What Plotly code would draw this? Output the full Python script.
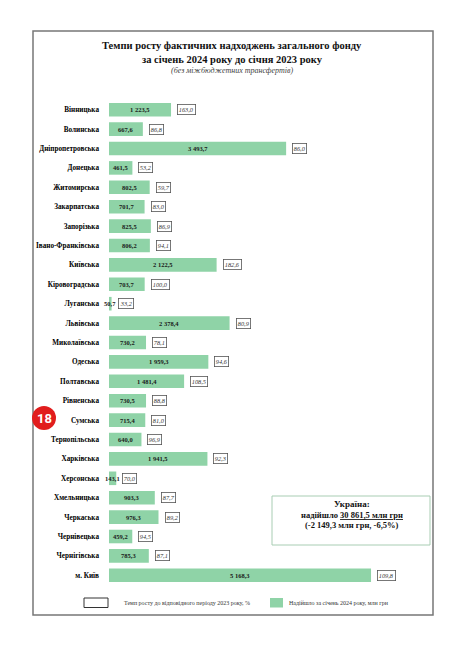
import plotly.graph_objects as go

regions = ["Вінницька", "Волинська", "Дніпропетровська", "Донецька", "Житомирська",
           "Закарпатська", "Запорізька", "Івано-Франківська", "Київська", "Кіровоградська",
           "Луганська", "Львівська", "Миколаївська", "Одеська", "Полтавська",
           "Рівненська", "Сумська", "Тернопільська", "Харківська", "Херсонська",
           "Хмельницька", "Черкаська", "Чернівецька", "Чернігівська", "м. Київ"]
received = [1223.5, 667.6, 3493.7, 461.5, 802.5,
            701.7, 825.5, 806.2, 2122.5, 703.7,
            50.7, 2378.4, 730.2, 1959.3, 1481.4,
            730.5, 715.4, 640.0, 1941.5, 143.1,
            903.3, 976.3, 459.2, 785.3, 5168.3]
growth = [163.0, 86.8, 86.0, 53.2, 59.7,
          83.0, 86.9, 94.1, 182.6, 100.0,
          33.2, 80.9, 78.1, 94.6, 108.5,
          88.8, 81.0, 96.9, 92.3, 70.0,
          87.7, 89.2, 94.5, 87.1, 109.8]

# window is 468x663, page body has an 8px margin
OFF = 8
W, H = 468 - OFF, 663 - OFF
# plot area in window coordinates
PL, PR, PT, PB = 109, 433, 100, 585
ML, MR, MT, MB = PL - OFF, 468 - PR, PT - OFF, 663 - PB
PW, PH = PR - PL, PB - PT
SERIF = "Liberation Serif"
GREEN = "#8fd3a7"


def px(x):
    return (x - PL) / PW


def py(y):
    return 1 - (y - PT) / PH


def fmt(v):
    return f"{v:,.1f}".replace(",", " ").replace(".", ",")


fig = go.Figure()
fig.add_trace(go.Bar(
    x=received, y=regions, orientation="h",
    marker=dict(color=GREEN, line=dict(width=0)),
    width=0.7, showlegend=False, hoverinfo="skip",
))

annotations = []
for r, v, g in zip(regions, received, growth):
    annotations.append(dict(
        x=v / 2, y=r, xref="x", yref="y", text=f"<b>{fmt(v)}</b>",
        showarrow=False, font=dict(family=SERIF, size=6.5, color="#1a1a1a"),
        xanchor="center", yanchor="middle"))
    annotations.append(dict(
        x=v, y=r, xref="x", yref="y", text=f"<i>{fmt(g)}</i>",
        showarrow=False, font=dict(family=SERIF, size=6.3, color="#333"),
        xanchor="left", yanchor="middle", xshift=6,
        bordercolor="#555", borderwidth=0.8, borderpad=1, bgcolor="white"))

# Title
annotations += [
    dict(x=px(232), y=py(46), xref="paper", yref="paper", showarrow=False,
         text="<b>Темпи росту фактичних надходжень загального фонду</b>",
         font=dict(family=SERIF, size=10.5, color="#111"), xanchor="center", yanchor="middle"),
    dict(x=px(232), y=py(59), xref="paper", yref="paper", showarrow=False,
         text="<b>за січень 2024 року до січня 2023 року</b>",
         font=dict(family=SERIF, size=10.5, color="#111"), xanchor="center", yanchor="middle"),
    dict(x=px(232), y=py(70), xref="paper", yref="paper", showarrow=False,
         text="<i>(без міжбюджетних трансфертів)</i>",
         font=dict(family=SERIF, size=8, color="#444"), xanchor="center", yanchor="middle"),
]

# Ukraine summary box
annotations += [
    dict(x=px(352), y=py(504), xref="paper", yref="paper", showarrow=False,
         text="<b>Україна:</b>", font=dict(family=SERIF, size=9, color="#111"),
         xanchor="center", yanchor="middle"),
    dict(x=px(352), y=py(514.5), xref="paper", yref="paper", showarrow=False,
         text="<b>надійшло <u>30 861,5 млн грн</u></b>", font=dict(family=SERIF, size=8.5, color="#111"),
         xanchor="center", yanchor="middle"),
    dict(x=px(352), y=py(525), xref="paper", yref="paper", showarrow=False,
         text="<b>(-2 149,3 млн грн, -6,5%)</b>", font=dict(family=SERIF, size=8.5, color="#111"),
         xanchor="center", yanchor="middle"),
]

# Legend texts
annotations += [
    dict(x=px(122), y=py(603), xref="paper", yref="paper", showarrow=False,
         text="Темп росту до відповідного періоду 2023 року, %",
         font=dict(family=SERIF, size=6, color="#333"), xanchor="left", yanchor="middle"),
    dict(x=px(287), y=py(603), xref="paper", yref="paper", showarrow=False,
         text="Надійшло за січень 2024 року, млн грн",
         font=dict(family=SERIF, size=6, color="#333"), xanchor="left", yanchor="middle"),
]

# Red badge number
annotations.append(dict(x=px(44), y=py(418), xref="paper", yref="paper", showarrow=False,
                        text="<b>18</b>", font=dict(family="Roboto", size=13, color="white"),
                        xanchor="center", yanchor="middle"))

shapes = [
    # page frame
    dict(type="rect", xref="paper", yref="paper", x0=px(33), x1=px(433), y0=py(615), y1=py(31),
         line=dict(color="#777", width=1.5), fillcolor="rgba(0,0,0,0)", layer="below"),
    # Ukraine box
    dict(type="rect", xref="paper", yref="paper", x0=px(272), x1=px(430), y0=py(545), y1=py(496),
         line=dict(color="#a8cdb3", width=1), fillcolor="white", layer="above"),
    # legend: empty box
    dict(type="rect", xref="paper", yref="paper", x0=px(84), x1=px(108), y0=py(607.5), y1=py(598),
         line=dict(color="#333", width=1), fillcolor="white"),
    # legend: green box
    dict(type="rect", xref="paper", yref="paper", x0=px(270), x1=px(283), y0=py(607.5), y1=py(598),
         line=dict(width=0), fillcolor=GREEN),
    # red badge
    dict(type="circle", xref="paper", yref="paper", x0=px(32), x1=px(56), y0=py(430), y1=py(406),
         line=dict(width=0), fillcolor="#e11d1d"),
]

fig.update_layout(
    width=W, height=H,
    margin=dict(l=ML, r=MR, t=MT, b=MB),
    paper_bgcolor="white", plot_bgcolor="white",
    xaxis=dict(range=[0, PW / 0.0507], visible=False, fixedrange=True),
    yaxis=dict(categoryorder="array", categoryarray=regions, autorange="reversed",
               showgrid=False, zeroline=False, showline=False, ticks="",
               ticklabelstandoff=9,
               tickfont=dict(family=SERIF, size=7.2, color="#000", weight="bold")),
    annotations=annotations, shapes=shapes,
    bargap=0.3,
)

fig.write_html("out.html")
